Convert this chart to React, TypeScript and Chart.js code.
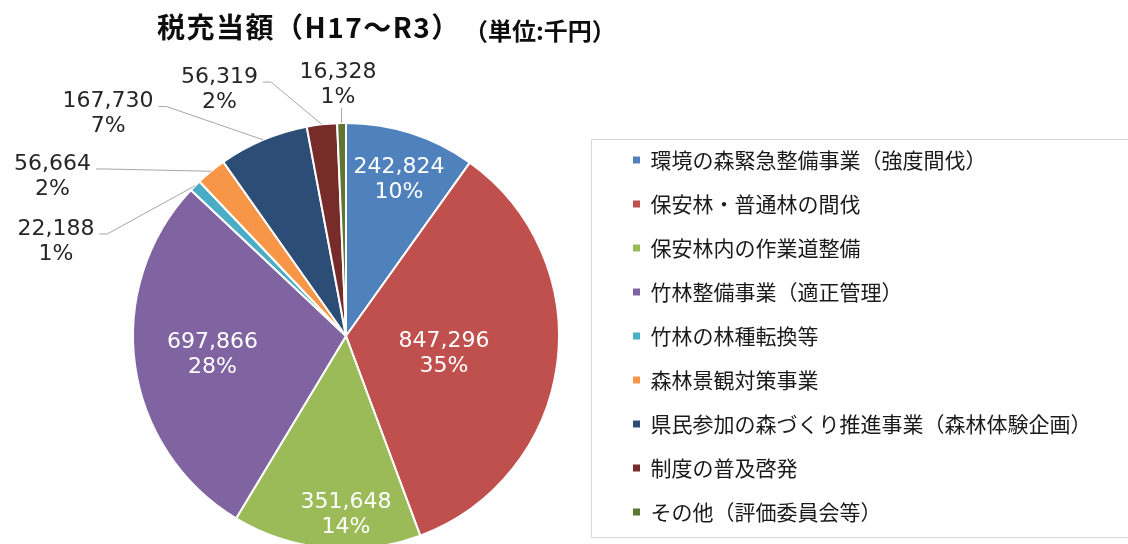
import React, { useEffect, useRef } from "react";
import { Chart, registerables } from "chart.js";

Chart.register(...registerables);

// ---- data ----
const categories = [
  "環境の森緊急整備事業（強度間伐）",
  "保安林・普通林の間伐",
  "保安林内の作業道整備",
  "竹林整備事業（適正管理）",
  "竹林の林種転換等",
  "森林景観対策事業",
  "県民参加の森づくり推進事業（森林体験企画）",
  "制度の普及啓発",
  "その他（評価委員会等）",
];
const amounts = [242824, 847296, 351648, 697866, 22188, 56664, 167730, 56319, 16328];
const percentLabels = ["10%", "35%", "14%", "28%", "1%", "2%", "7%", "2%", "1%"];
const sliceColors = [
  "#4F81BD",
  "#C0504D",
  "#9BBB59",
  "#8064A2",
  "#4BACC6",
  "#F79646",
  "#2C4D75",
  "#772C2A",
  "#5F7530",
];
const titleText = "税充当額（H17～R3）";
const unitText = "（単位:千円）";

// ---- layout (not data) ----
const W = 1128;
const H = 600;
const PIE_CX = 346;
const PIE_CY = 336;
const PIE_R = 213;
const LEGEND_FONT = 21;
const LEGEND_BOX = 7;
const LEGEND_PAD = 23;
const LEGEND_LEFT = 610;
const CJK = "'Noto Sans CJK JP', 'Noto Sans CJK SC', sans-serif";
const NUM_FONT = "'DejaVu Sans', sans-serif";
const LINE_GAP = 25;

// label block centres relative to pie centre, in units of the radius
const labelPlacement = [
  { fx: 0.249, fy: -0.732, inside: true },
  { fx: 0.46, fy: 0.085, inside: true },
  { fx: 0.0, fy: 0.84, inside: true },
  { fx: -0.627, fy: 0.089, inside: true },
  { fx: -1.362, fy: -0.444, inside: false },
  { fx: -1.378, fy: -0.749, inside: false },
  { fx: -1.117, fy: -1.042, inside: false },
  { fx: -0.594, fy: -1.157, inside: false },
  { fx: -0.038, fy: -1.178, inside: false },
];

const frame = { left: 591.5, top: 139.5, right: 1140, bottom: 537.5 };

const sliceLabelPlugin = {
  id: "sliceLabels",
  afterDatasetsDraw(chart: any) {
    const meta = chart.getDatasetMeta(0);
    const ctx = chart.ctx as CanvasRenderingContext2D;
    ctx.save();
    ctx.font = `22px ${NUM_FONT}`;
    ctx.textAlign = "center";
    ctx.textBaseline = "middle";
    meta.data.forEach((el: any, i: number) => {
      const p = el.getProps(["x", "y", "startAngle", "endAngle", "outerRadius"], true);
      const place = labelPlacement[i];
      const cx = p.x + place.fx * p.outerRadius;
      const cy = p.y + place.fy * p.outerRadius;
      const l1 = amounts[i].toLocaleString("en-US");
      const l2 = percentLabels[i];
      const y1 = cy - LINE_GAP / 2;
      const y2 = cy + LINE_GAP / 2;
      if (!place.inside) {
        const mid = (p.startAngle + p.endAngle) / 2;
        const ex = p.x + Math.cos(mid) * p.outerRadius;
        const ey = p.y + Math.sin(mid) * p.outerRadius;
        ctx.strokeStyle = "#A6A6A6";
        ctx.lineWidth = 1;
        ctx.beginPath();
        if (Math.abs(cx - ex) < 30) {
          ctx.moveTo(ex, y2 + 10);
          ctx.lineTo(ex, ey);
        } else {
          const w = ctx.measureText(l1).width;
          const sx = cx + w / 2 + 5;
          const sy = y1 + 5;
          ctx.moveTo(sx, sy);
          ctx.lineTo(sx + 8, sy);
          ctx.lineTo(ex, ey);
        }
        ctx.stroke();
      }
      ctx.fillStyle = place.inside ? "#FFFFFF" : "#262626";
      ctx.fillText(l1, cx, y1);
      ctx.fillText(l2, cx, y2);
    });
    ctx.restore();
  },
};

const decorPlugin = {
  id: "decor",
  beforeDraw(chart: any) {
    const ctx = chart.ctx as any;
    ctx.save();
    ctx.fillStyle = "#FFFFFF";
    ctx.fillRect(0, 0, chart.width, chart.height);
    ctx.strokeStyle = "#D9D9D9";
    ctx.lineWidth = 1;
    ctx.strokeRect(frame.left, frame.top, frame.right - frame.left, frame.bottom - frame.top);
    ctx.fillStyle = "#0D0D0D";
    ctx.textBaseline = "middle";
    ctx.textAlign = "left";
    ctx.font = `bold 28px ${CJK}`;
    ctx.letterSpacing = "1.5px";
    ctx.fillText(titleText, 157, 27.5);
    ctx.letterSpacing = "0px";
    ctx.font = `bold 24px ${CJK}`;
    ctx.fillText(unitText, 464, 31);
    ctx.restore();
  },
};

export default function App() {
  const ref = useRef<HTMLCanvasElement | null>(null);

  useEffect(() => {
    const canvas = ref.current;
    if (!canvas) return;

    // measure the widest legend label so the legend starts where the reference has it
    const mctx = document.createElement("canvas").getContext("2d") as CanvasRenderingContext2D;
    mctx.font = `normal ${LEGEND_FONT}px ${CJK}`;
    const maxText = Math.max(...categories.map((c) => mctx.measureText(c).width));
    const legendWidth = LEGEND_PAD + LEGEND_BOX + LEGEND_FONT / 2 + maxText + 10;
    const padLeft = 2 * PIE_CX - LEGEND_LEFT;
    const padRight = W - LEGEND_LEFT - legendWidth;
    const padTop = 82;
    const padBottom = padTop + H - 2 * PIE_CY;

    const baseGen = (Chart as any).overrides.doughnut.plugins.legend.labels.generateLabels;

    const chart = new Chart(canvas, {
      type: "pie",
      data: {
        labels: categories,
        datasets: [
          {
            data: amounts,
            backgroundColor: sliceColors,
            borderColor: "#FFFFFF",
            borderWidth: 2,
            radius: PIE_R,
          } as any,
        ],
      },
      options: {
        responsive: false,
        animation: false,
        events: [],
        layout: {
          padding: { left: padLeft, right: padRight, top: padTop, bottom: padBottom },
        },
        plugins: {
          title: { display: false },
          tooltip: { enabled: false },
          legend: {
            display: true,
            position: "right",
            align: "center",
            labels: {
              boxWidth: LEGEND_BOX,
              boxHeight: LEGEND_BOX,
              padding: LEGEND_PAD,
              color: "#1A1A1A",
              font: { family: CJK, size: LEGEND_FONT },
              generateLabels: (c: any) =>
                baseGen(c).map((it: any) => ({ ...it, lineWidth: 0, strokeStyle: "rgba(0,0,0,0)" })),
            },
          },
        },
      },
      plugins: [decorPlugin, sliceLabelPlugin],
    });

    return () => chart.destroy();
  }, []);

  return (
    <div
      style={{
        position: "fixed",
        left: 0,
        top: 0,
        width: W,
        height: 544,
        overflow: "hidden",
        background: "#FFFFFF",
      }}
    >
      <canvas ref={ref} width={W} height={H} style={{ display: "block", width: W, height: H }} />
    </div>
  );
}
